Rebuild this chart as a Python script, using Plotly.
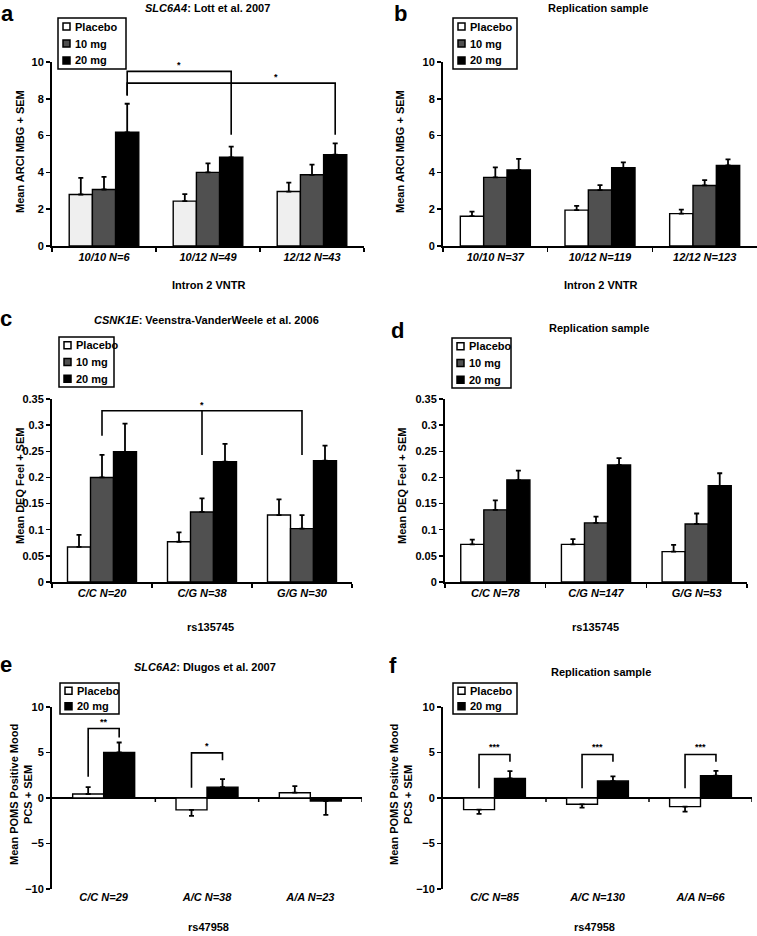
import plotly.graph_objects as go

# ---------------- data ----------------
dose3 = ["Placebo", "10 mg", "20 mg"]
dose2 = ["Placebo", "20 mg"]

a_cats = ["10/10 N=6", "10/12 N=49", "12/12 N=43"]
a_placebo = [2.80, 2.44, 2.96]
a_placebo_err = [0.90, 0.38, 0.48]
a_10mg = [3.07, 4.00, 3.87]
a_10mg_err = [0.69, 0.49, 0.55]
a_20mg = [6.18, 4.82, 4.96]
a_20mg_err = [1.55, 0.58, 0.62]

b_cats = ["10/10 N=37", "10/12 N=119", "12/12 N=123"]
b_placebo = [1.62, 1.95, 1.76]
b_placebo_err = [0.25, 0.23, 0.22]
b_10mg = [3.73, 3.04, 3.29]
b_10mg_err = [0.54, 0.27, 0.29]
b_20mg = [4.13, 4.25, 4.38]
b_20mg_err = [0.60, 0.30, 0.33]

c_cats = ["C/C N=20", "C/G N=38", "G/G N=30"]
c_placebo = [0.067, 0.077, 0.128]
c_placebo_err = [0.023, 0.018, 0.030]
c_10mg = [0.200, 0.134, 0.102]
c_10mg_err = [0.043, 0.026, 0.026]
c_20mg = [0.249, 0.230, 0.232]
c_20mg_err = [0.054, 0.034, 0.029]

d_cats = ["C/C N=78", "C/G N=147", "G/G N=53"]
d_placebo = [0.072, 0.072, 0.058]
d_placebo_err = [0.009, 0.010, 0.013]
d_10mg = [0.138, 0.113, 0.111]
d_10mg_err = [0.018, 0.012, 0.020]
d_20mg = [0.195, 0.224, 0.184]
d_20mg_err = [0.018, 0.013, 0.024]

e_cats = ["C/C N=29", "A/C N=38", "A/A N=23"]
e_placebo = [0.44, -1.31, 0.58]
e_placebo_err = [0.76, 0.66, 0.73]
e_20mg = [5.00, 1.20, -0.33]
e_20mg_err = [1.10, 0.88, 1.53]

f_cats = ["C/C N=85", "A/C N=130", "A/A N=66"]
f_placebo = [-1.28, -0.69, -0.95]
f_placebo_err = [0.47, 0.37, 0.55]
f_20mg = [2.15, 1.86, 2.45]
f_20mg_err = [0.81, 0.51, 0.54]

a_yticks = [0, 2, 4, 6, 8, 10]
c_yticks = [0, 0.05, 0.1, 0.15, 0.2, 0.25, 0.3, 0.35]
e_yticks = [-10, -5, 0, 5, 10]

# significance brackets: (group, bar) endpoints, bracket level, drop levels, label and its position
a_brackets = [
    dict(p0=(0, 2), p1=(1, 2), y=9.49, d0=8.18, d1=6.04, text="*", tx=0.72, ty=9.85),
    dict(p0=(0, 2), p1=(2, 2), y=8.85, d0=8.18, d1=6.04, text="*", tx=1.65, ty=9.2),
]
c_brackets = [
    dict(p0=(0, 1), p1=(2, 1), y=0.3276, d0=0.2796, d1=0.243, text="*", tx=1.0, ty=0.339,
         mid=[(1, 1, 0.243)]),
]
e_brackets = [
    dict(p0=(0, 0), p1=(0, 1), y=7.63, d0=2.34, d1=6.64, text="**", tx=0.0, ty=8.4),
    dict(p0=(1, 0), p1=(1, 1), y=4.96, d0=1.13, d1=4.16, text="*", tx=1.0, ty=5.75),
]
f_brackets = [
    dict(p0=(0, 0), p1=(0, 1), y=4.78, d0=1.06, d1=3.98, text="***", tx=0.0, ty=5.6),
    dict(p0=(1, 0), p1=(1, 1), y=4.78, d0=1.06, d1=3.98, text="***", tx=1.0, ty=5.6),
    dict(p0=(2, 0), p1=(2, 1), y=4.78, d0=1.06, d1=3.98, text="***", tx=2.0, ty=5.6),
]

# ---------------- style ----------------
W, H = 757, 936
FONT = "Liberation Sans, Arial, Helvetica, sans-serif"
WHITE = "#ffffff"
LIGHT = "#efefef"
GREY = "#505050"
BLACK = "#000000"


def px_x(p):
    return p / W


def px_y(p):
    return 1 - p / H


panels = [
    dict(letter="a", title="<i>SLC6A4</i>: Lott et al. 2007", cats=a_cats,
         series=[(dose3[0], a_placebo, a_placebo_err, LIGHT),
                 (dose3[1], a_10mg, a_10mg_err, GREY),
                 (dose3[2], a_20mg, a_20mg_err, BLACK)],
         yticks=a_yticks, yrange=[0, 10], ytitle="Mean ARCI MBG + SEM", xtitle="Intron 2 VNTR",
         xpx=(52, 364), ypx=(62, 246), bw=0.223, brackets=a_brackets,
         letter_pos=(7, 14), title_pos=(207, 8), legend_box=(58, 18, 126, 69),
         ytitle_pos=(20, 152), xtitle_pos=(208, 285), zero_axis=False),
    dict(letter="b", title="Replication sample", cats=b_cats,
         series=[(dose3[0], b_placebo, b_placebo_err, WHITE),
                 (dose3[1], b_10mg, b_10mg_err, GREY),
                 (dose3[2], b_20mg, b_20mg_err, BLACK)],
         yticks=a_yticks, yrange=[0, 10], ytitle="Mean ARCI MBG + SEM", xtitle="Intron 2 VNTR",
         xpx=(443, 757), ypx=(62, 246), bw=0.223, brackets=[],
         letter_pos=(400, 14), title_pos=(598, 8), legend_box=(453, 18, 517, 69),
         ytitle_pos=(400, 152), xtitle_pos=(600, 285), zero_axis=False),
    dict(letter="c", title="<i>CSNK1E</i>: Veenstra-VanderWeele et al. 2006", cats=c_cats,
         series=[(dose3[0], c_placebo, c_placebo_err, WHITE),
                 (dose3[1], c_10mg, c_10mg_err, GREY),
                 (dose3[2], c_20mg, c_20mg_err, BLACK)],
         yticks=c_yticks, yrange=[0, 0.35], ytitle="Mean DEQ Feel + SEM", xtitle="rs135745",
         xpx=(52, 352), ypx=(399, 582), bw=0.23, brackets=c_brackets,
         letter_pos=(6, 318), title_pos=(206, 320), legend_box=(59, 337, 114, 387),
         ytitle_pos=(20, 486), xtitle_pos=(210, 627), zero_axis=False),
    dict(letter="d", title="Replication sample", cats=d_cats,
         series=[(dose3[0], d_placebo, d_placebo_err, WHITE),
                 (dose3[1], d_10mg, d_10mg_err, GREY),
                 (dose3[2], d_20mg, d_20mg_err, BLACK)],
         yticks=c_yticks, yrange=[0, 0.35], ytitle="Mean DEQ Feel + SEM", xtitle="rs135745",
         xpx=(445, 747), ypx=(399, 582), bw=0.229, brackets=[],
         letter_pos=(397, 330), title_pos=(599, 328), legend_box=(452, 338, 511, 388),
         ytitle_pos=(402, 486), xtitle_pos=(595, 627), zero_axis=False),
    dict(letter="e", title="<i>SLC6A2</i>: Dlugos et al. 2007", cats=e_cats,
         series=[(dose2[0], e_placebo, e_placebo_err, WHITE),
                 (dose2[1], e_20mg, e_20mg_err, BLACK)],
         yticks=e_yticks, yrange=[-10, 10], ytitle="Mean POMS Positive Mood<br>PCS + SEM",
         xtitle="rs47958",
         xpx=(52, 362), ypx=(707, 889), bw=0.30, brackets=e_brackets,
         letter_pos=(6, 664), title_pos=(205, 667), legend_box=(60, 683, 119, 714),
         ytitle_pos=(21, 795), xtitle_pos=(208, 927), zero_axis=True),
    dict(letter="f", title="Replication sample", cats=f_cats,
         series=[(dose2[0], f_placebo, f_placebo_err, WHITE),
                 (dose2[1], f_20mg, f_20mg_err, BLACK)],
         yticks=e_yticks, yrange=[-10, 10], ytitle="Mean POMS Positive Mood<br>PCS + SEM",
         xtitle="rs47958",
         xpx=(443, 752), ypx=(707, 889), bw=0.30, brackets=f_brackets,
         letter_pos=(393, 665), title_pos=(601, 672), legend_box=(453, 683, 517, 714),
         ytitle_pos=(401, 795), xtitle_pos=(594, 927), zero_axis=True),
]

fig = go.Figure()
layout = dict(
    width=W, height=H, margin=dict(l=0, r=0, t=0, b=0, autoexpand=False),
    paper_bgcolor="white", plot_bgcolor="white",
    font=dict(family=FONT, size=11, color="black", weight="bold"),
    barmode="overlay", showlegend=False,
)
annotations = []
shapes = []


def offset(i, n, w):
    return (i - (n - 1) / 2) * w


for k, p in enumerate(panels):
    idx = k + 1
    sfx = "" if idx == 1 else str(idx)
    xa, ya = "x" + sfx, "y" + sfx
    n = len(p["series"])
    w = p["bw"]
    labels = ["<i>%s</i>" % c for c in p["cats"]]
    for i, (name, vals, errs, col) in enumerate(p["series"]):
        up = [e if v >= 0 else 0 for v, e in zip(vals, errs)]
        dn = [e if v < 0 else 0 for v, e in zip(vals, errs)]
        fig.add_trace(go.Bar(
            x=labels, y=vals, name=name, xaxis=xa, yaxis=ya,
            width=w, offset=offset(i, n, w) - w / 2,
            marker=dict(color=col, line=dict(color="black", width=1.4)),
            error_y=dict(type="data", symmetric=False, array=up, arrayminus=dn,
                         color="black", thickness=1.8, width=2.5),
            hoverinfo="skip",
        ))
    x0, x1 = p["xpx"]
    yt, yb = p["ypx"]
    zero = p["zero_axis"]
    layout["xaxis" + sfx] = dict(
        domain=[px_x(x0), px_x(x1)], anchor=ya, type="category",
        range=[-0.5, 2.5], showgrid=False, zeroline=False,
        showline=not zero, linecolor="black", linewidth=2,
        ticks="outside", ticklen=(9 if zero else 4), tickwidth=1.5,
        tickcolor=("rgba(0,0,0,0)" if zero else "black"),
        tickson="boundaries", tickfont=dict(size=11, weight="bold"),
        fixedrange=True, automargin=False,
    )
    layout["yaxis" + sfx] = dict(
        domain=[px_y(yb), px_y(yt)], anchor=xa, range=p["yrange"],
        tickvals=p["yticks"], showgrid=False,
        zeroline=zero, zerolinecolor="black", zerolinewidth=2,
        showline=True, linecolor="black", linewidth=2,
        ticks="outside", ticklen=4, tickwidth=1.5, tickcolor="black",
        tickfont=dict(size=11, weight="bold"), fixedrange=True, automargin=False,
    )
    # legend box (key of the dose series)
    bx0, by0, bx1, by1 = p["legend_box"]
    shapes.append(dict(type="rect", xref="paper", yref="paper",
                       x0=px_x(bx0), x1=px_x(bx1), y0=px_y(by1), y1=px_y(by0),
                       line=dict(color="black", width=1.5), fillcolor="white", layer="above"))
    step = (by1 - by0) / n
    for i, (name, vals, errs, col) in enumerate(p["series"]):
        cy = by0 + step * (i + 0.5)
        sq = 7
        sx = bx0 + 5
        shapes.append(dict(type="rect", xref="paper", yref="paper",
                           x0=px_x(sx), x1=px_x(sx + sq), y0=px_y(cy + sq / 2), y1=px_y(cy - sq / 2),
                           line=dict(color="black", width=1.5), fillcolor=(WHITE if col == LIGHT else col),
                           layer="above"))
        annotations.append(dict(xref="paper", yref="paper", x=px_x(sx + sq + 4), y=px_y(cy),
                                text=name, showarrow=False, xanchor="left", yanchor="middle",
                                font=dict(size=11, weight="bold"), borderpad=0))
    if zero:
        ymin, ymax = p["yrange"]
        tick_dy = (ymax - ymin) * 4 / (yb - yt)
        for b in range(len(p["cats"])):
            shapes.append(dict(type="line", xref=xa, yref=ya, x0=b + 0.5, x1=b + 0.5,
                               y0=0, y1=-tick_dy, line=dict(color="black", width=1.5)))
    for br in p["brackets"]:
        gx0 = br["p0"][0] + offset(br["p0"][1], n, w)
        gx1 = br["p1"][0] + offset(br["p1"][1], n, w)
        path = "M %f,%f L %f,%f L %f,%f L %f,%f" % (gx0, br["d0"], gx0, br["y"], gx1, br["y"], gx1, br["d1"])
        shapes.append(dict(type="path", xref=xa, yref=ya, path=path,
                           line=dict(color="black", width=1.6)))
        for (g, bi, yv) in br.get("mid", []):
            gx = g + offset(bi, n, w)
            shapes.append(dict(type="line", xref=xa, yref=ya, x0=gx, x1=gx, y0=br["y"], y1=yv,
                               line=dict(color="black", width=1.6)))
        annotations.append(dict(xref=xa, yref=ya, x=br["tx"], y=br["ty"], text=br["text"],
                                showarrow=False, font=dict(size=9, weight="bold", color="black"),
                                xanchor="center", yanchor="middle"))
    # panel letter, title, axis titles
    px_, py_ = p["letter_pos"]
    annotations.append(dict(xref="paper", yref="paper", x=px_x(px_), y=px_y(py_), text=p["letter"],
                            showarrow=False, font=dict(size=22, weight="bold"),
                            xanchor="center", yanchor="middle", borderpad=0))
    tx_, ty_ = p["title_pos"]
    annotations.append(dict(xref="paper", yref="paper", x=px_x(tx_), y=px_y(ty_), text=p["title"],
                            showarrow=False, font=dict(size=11, weight="bold"),
                            xanchor="center", yanchor="middle", borderpad=0))
    yx_, yy_ = p["ytitle_pos"]
    annotations.append(dict(xref="paper", yref="paper", x=px_x(yx_), y=px_y(yy_), text=p["ytitle"],
                            showarrow=False, textangle=-90, font=dict(size=11, weight="bold"),
                            xanchor="center", yanchor="middle"))
    xx_, xy_ = p["xtitle_pos"]
    annotations.append(dict(xref="paper", yref="paper", x=px_x(xx_), y=px_y(xy_), text=p["xtitle"],
                            showarrow=False, font=dict(size=11, weight="bold"),
                            xanchor="center", yanchor="middle", borderpad=0))

layout["annotations"] = annotations
layout["shapes"] = shapes
fig.update_layout(**layout)
# remove the browser's default 8px body margin so the figure fills the window exactly
fig.write_html("out.html", config={"displayModeBar": False, "staticPlot": True},
               post_script="document.body.style.margin='0';document.body.style.overflow='hidden';")
